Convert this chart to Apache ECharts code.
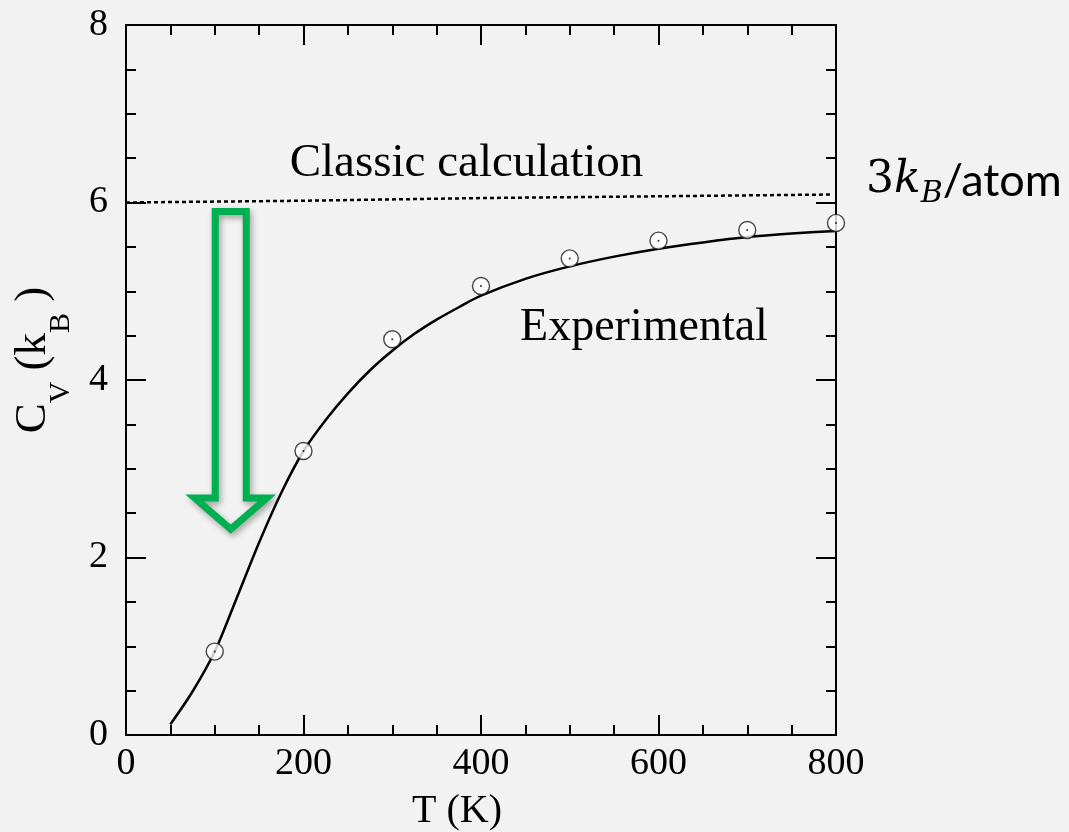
<!DOCTYPE html>
<html>
<head>
<meta charset="utf-8">
<script src="https://cdn.jsdelivr.net/npm/echarts@6/dist/echarts.min.js"></script>
<style>
  html, body { margin: 0; padding: 0; background: #F2F2F2; }
  #main { width: 1069px; height: 832px; }
</style>
</head>
<body>
<div id="main"></div>
<script>
// ---- data ----
const T_exp  = [100, 200, 300, 400, 500, 600, 700, 800];
const Cv_exp = [0.94, 3.20, 4.46, 5.06, 5.37, 5.57, 5.69, 5.77];

const T_fit  = [50, 75, 100, 125, 150, 175, 200, 225, 250, 275, 300, 325, 350, 375, 400, 450, 500, 550, 600, 650, 700, 750, 800];
const Cv_fit = [0.12, 0.49, 0.94, 1.55, 2.17, 2.73, 3.20, 3.55, 3.85, 4.11, 4.33, 4.52, 4.68, 4.82, 4.95, 5.14, 5.28, 5.39, 5.48, 5.55, 5.61, 5.65, 5.68];

const T_cls  = [0, 200, 400, 600, 796];
const Cv_cls = [6.00, 6.02, 6.05, 6.07, 6.09];

const xTicks = [0, 200, 400, 600, 800];
const yTicks = [0, 2, 4, 6, 8];

// arrow annotation anchor (data coordinates)
const arrowT = 118, arrowTop = 5.9, arrowShoulder = 2.67, arrowTip = 2.32;

const zip = (a, b) => a.map((v, i) => [v, b[i]]);

const SERIF = '"Liberation Serif", "Times New Roman", serif';

function axisBase(pos, isX, showLabel) {
  return {
    type: 'value',
    position: pos,
    min: isX ? xTicks[0] : yTicks[0],
    max: isX ? xTicks[xTicks.length - 1] : yTicks[yTicks.length - 1],
    interval: isX ? xTicks[1] - xTicks[0] : yTicks[1] - yTicks[0],
    axisLine: { show: true, onZero: false, lineStyle: { color: '#000', width: 2 } },
    axisTick: { show: true, inside: true, length: 20, lineStyle: { color: '#000', width: 2 } },
    minorTick: { show: true, splitNumber: 4, length: 10, lineStyle: { color: '#000', width: 2 } },
    splitLine: { show: false },
    minorSplitLine: { show: false },
    axisLabel: {
      show: showLabel,
      color: '#000',
      fontFamily: SERIF,
      fontSize: 38,
      margin: isX ? 10 : 18
    }
  };
}

const chart = echarts.init(document.getElementById('main'), null, { renderer: 'canvas' });

const option = {
  backgroundColor: '#F2F2F2',
  animation: false,
  grid: { left: 126, right: 233, top: 25, bottom: 97, containLabel: false },
  xAxis: [axisBase('bottom', true, true), axisBase('top', true, false)],
  yAxis: [axisBase('left', false, true), axisBase('right', false, false)],
  series: [
    {
      name: 'Classic calculation',
      type: 'line',
      data: zip(T_cls, Cv_cls),
      symbol: 'none',
      lineStyle: { color: '#000', width: 2.5, type: [4, 3] },
      z: 2
    },
    {
      name: 'Experimental fit',
      type: 'line',
      data: zip(T_fit, Cv_fit),
      smooth: 0.3,
      symbol: 'none',
      lineStyle: { color: '#000', width: 2.5 },
      z: 3
    },
    {
      name: 'Experimental',
      type: 'scatter',
      data: zip(T_exp, Cv_exp),
      symbol: 'circle',
      symbolSize: 17,
      itemStyle: { color: '#fff', borderColor: '#1a1a1a', borderWidth: 1.4 },
      z: 4
    },
    {
      name: 'Experimental centre',
      type: 'scatter',
      data: zip(T_exp, Cv_exp),
      symbol: 'circle',
      symbolSize: 2,
      itemStyle: { color: '#000' },
      z: 5
    }
  ]
};
chart.setOption(option);

// pixel positions for annotation arrow
const ax = chart.convertToPixel({ xAxisIndex: 0 }, arrowT);
const yTop = chart.convertToPixel({ yAxisIndex: 0 }, arrowTop);
const ySh = chart.convertToPixel({ yAxisIndex: 0 }, arrowShoulder);
const yTip = chart.convertToPixel({ yAxisIndex: 0 }, arrowTip);
const hw = 15.5, ww = 36;

chart.setOption({
  graphic: [
    {
      type: 'polygon',
      z: 10,
      shape: {
        points: [
          [ax - hw, yTop], [ax + hw, yTop], [ax + hw, ySh], [ax + ww, ySh],
          [ax, yTip], [ax - ww, ySh], [ax - hw, ySh]
        ]
      },
      style: {
        fill: 'none',
        stroke: '#00B050',
        lineWidth: 7,
        lineJoin: 'miter',
        shadowBlur: 6,
        shadowColor: 'rgba(0,0,0,0.35)',
        shadowOffsetX: 2,
        shadowOffsetY: 3
      }
    },
    {
      type: 'text', z: 10,
      x: 466.5, y: 164,
      style: { text: 'Classic calculation', font: '47px "Liberation Serif"', fill: '#000', align: 'center', verticalAlign: 'middle' }
    },
    {
      type: 'text', z: 10,
      x: 644, y: 328,
      style: { text: 'Experimental', font: '46px "Liberation Serif"', fill: '#000', align: 'center', verticalAlign: 'middle' }
    },
    {
      type: 'text', z: 10,
      x: 457, y: 811,
      style: { text: 'T (K)', font: '40px "Liberation Serif"', fill: '#000', align: 'center', verticalAlign: 'middle' }
    },
    {
      type: 'text', z: 10,
      x: 33, y: 360,
      rotation: Math.PI / 2,
      style: {
        text: '{m|C}{s|V}{m| (k}{s|B}{m| )}',
        align: 'center',
        verticalAlign: 'middle',
        fill: '#000',
        rich: {
          m: { fontFamily: SERIF, fontSize: 45, fill: '#000' },
          s: { fontFamily: SERIF, fontSize: 30, fill: '#000', padding: [56, 0, 0, 0] }
        }
      }
    },
    {
      type: 'text', z: 10,
      x: 866, y: 181,
      style: {
        text: '{n|3}{i|k}{s|B}{t|/atom}',
        align: 'left',
        verticalAlign: 'middle',
        fill: '#000',
        rich: {
          n: { fontFamily: '"DejaVu Serif"', fontSize: 44, fill: '#000' },
          i: { fontFamily: '"DejaVu Serif"', fontStyle: 'italic', fontSize: 44, fill: '#000' },
          s: { fontFamily: '"DejaVu Serif"', fontStyle: 'italic', fontSize: 30, fill: '#000', padding: [26, 0, 0, 0] },
          t: { fontFamily: 'Lato', fontSize: 45, fill: '#000' }
        }
      }
    }
  ]
});
</script>
</body>
</html>
